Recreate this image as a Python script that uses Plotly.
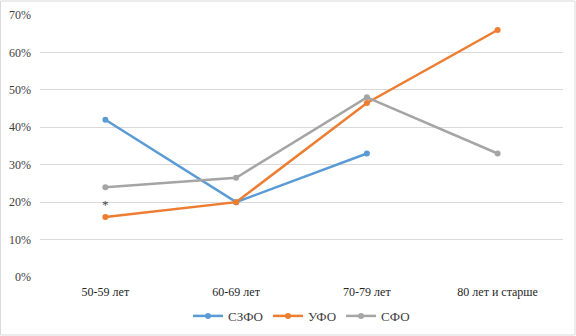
import plotly.graph_objects as go

categories = ["50-59 лет", "60-69 лет", "70-79 лет", "80 лет и старше"]
szfo = [42, 20, 33, None]
ufo = [16, 20, 46.5, 66]
sfo = [24, 26.5, 48, 33]
series_names = ["СЗФО", "УФО", "СФО"]
colors = ["#5b9bd5", "#ed7d31", "#a5a5a5"]

FONT = "'Liberation Serif', 'DejaVu Serif', serif"

fig = go.Figure()
for name, vals, col in zip(series_names, [szfo, ufo, sfo], colors):
    fig.add_trace(go.Scatter(
        x=categories, y=[v / 100 if v is not None else None for v in vals],
        mode="lines+markers", name=name,
        line=dict(color=col, width=2.5),
        marker=dict(color=col, size=6),
        connectgaps=False,
    ))

fig.add_annotation(x=categories[0], y=ufo[0] / 100, text="*", showarrow=False,
                   yshift=13, font=dict(family=FONT, size=13, color="#404040"))

fig.update_layout(
    width=576, height=336,
    margin=dict(l=40, r=13, t=15, b=59, autoexpand=False),
    paper_bgcolor="white", plot_bgcolor="white",
    font=dict(family=FONT, size=12, color="#404040"),
    showlegend=True,
    legend=dict(orientation="h", x=0.5, xanchor="center", yref="container",
                y=0.015, yanchor="bottom",
                bgcolor="rgba(0,0,0,0)",
                font=dict(family=FONT, size=13, color="#404040"), tracegroupgap=0),
    xaxis=dict(showgrid=False, showline=False, zeroline=False, ticks="",
               range=[-0.5, 3.5], automargin=False, ticklabelstandoff=6,
               tickfont=dict(family=FONT, size=12, color="#262626")),
    yaxis=dict(range=[0, 0.7], dtick=0.1, tickformat=".0%", showgrid=True,
               gridcolor="#d9d9d9", gridwidth=1, zeroline=False, showline=False,
               ticks="", ticklabelstandoff=8, automargin=False,
               tickfont=dict(family=FONT, size=12)),
    shapes=[dict(type="rect", xref="paper", yref="paper", x0=-39.5/523, x1=1+12/523,
                 y0=-58/262, y1=1+14/262, line=dict(color="#d9d9d9", width=1))],
)

fig.write_html("out.html")
